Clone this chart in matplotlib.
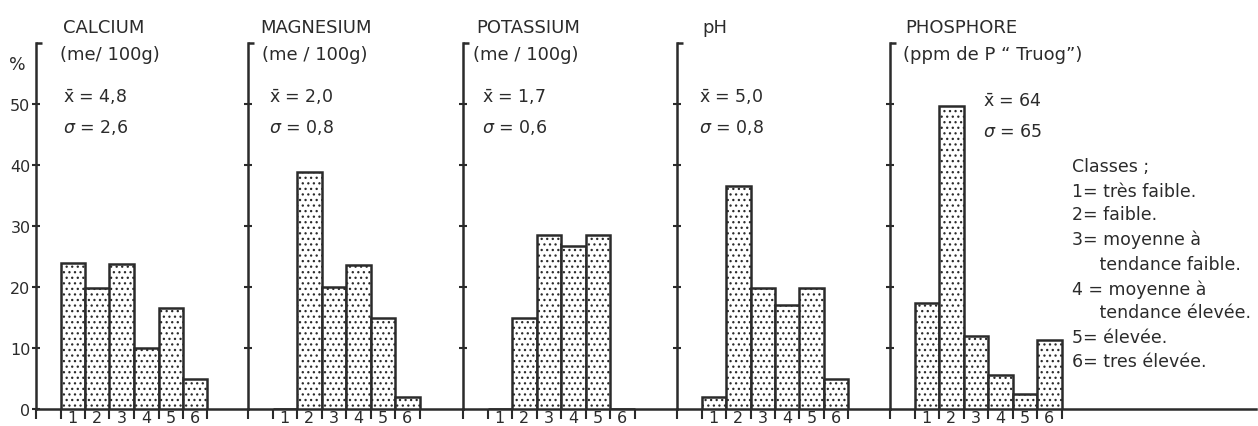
import matplotlib
matplotlib.use("Agg")
import matplotlib.pyplot as plt

plt.rcParams["font.family"] = ["DejaVu Sans"]
plt.rcParams["mathtext.fontset"] = "dejavusans"
plt.rcParams["hatch.linewidth"] = 0.9

# data: % of samples in each class (1..6)
classes = [1, 2, 3, 4, 5, 6]
calcium = [24, 19.8, 23.8, 10, 16.6, 5]
magnesium = [0, 38.8, 20, 23.6, 15, 2]
potassium = [0, 15, 28.5, 26.7, 28.5, 0]
ph = [2, 36.6, 19.8, 17, 19.8, 5]
phosphore = [17.3, 49.6, 12, 5.5, 2.4, 11.3]

titles = ["CALCIUM", "MAGNESIUM", "POTASSIUM", "pH", "PHOSPHORE"]
units = ["(me/ 100g)", "(me / 100g)", "(me / 100g)", "", "(ppm de P \u201c Truog\u201d)"]
means = ["4,8", "2,0", "1,7", "5,0", "64"]
sigmas = ["2,6", "0,8", "0,6", "0,8", "65"]
legend_lines = ["Classes ;", "1= très faible.", "2= faible.", "3= moyenne à",
                "     tendance faible.", "4 = moyenne à", "     tendance élevée.",
                "5= élevée.", "6= tres élevée."]

series = [calcium, magnesium, potassium, ph, phosphore]

W, H = 1258, 427
fig = plt.figure(figsize=(W / 100, H / 100), dpi=100)
ink = "#2b2b2b"

# panel y-axis positions in pixels
lefts = [36, 248, 463, 677, 890]
rights = [248, 463, 677, 890, 1256]
unit = 24.5  # px per class
base_y = 410
top_y = 44
px_per_pct = (base_y - top_y) / 60


def fx(px):
    return px / W


def fy(py):
    return 1 - py / H


for i, vals in enumerate(series):
    l, r = lefts[i], rights[i]
    ax = fig.add_axes([fx(l), fy(base_y), fx(r - l), (base_y - top_y) / H])
    ax.set_xlim(0, (r - l) / unit)
    ax.set_ylim(0, 60)
    ax.patch.set_alpha(0)
    for s in ["top", "right"]:
        ax.spines[s].set_visible(False)
    for s in ["left", "bottom"]:
        ax.spines[s].set_color(ink)
        ax.spines[s].set_linewidth(1.8)
    ax.bar([c + 0.5 for c in classes], vals, width=1.0, facecolor="white",
           edgecolor=ink, linewidth=1.8, hatch="...", zorder=3)
    # small bracket at the top of each axis
    ax.plot([0, 0.25], [60, 60], color=ink, lw=1.8, clip_on=False, solid_capstyle="butt")
    ax.set_xticks(range(0, 8))
    ax.set_xticklabels([])
    ax.tick_params(axis="x", direction="out", length=7, width=1.5, color=ink)
    # class numbers under the bars, kept inside the figure's bottom edge
    for c in classes:
        ax.text(c + 0.5, -(H - 0.5 - base_y) / px_per_pct, str(c), fontsize=11.5,
                color=ink, ha="center", va="bottom", clip_on=False)
    if i == 0:
        ax.set_yticks([0, 10, 20, 30, 40, 50])
        ax.set_yticklabels(["0", "10", "20", "30", "40", "50"], fontsize=11.5, color=ink)
        ax.text(-0.75, 56.5, "%", fontsize=12.5, color=ink, ha="center", va="center")
    else:
        ax.set_yticks([10, 20, 30, 40, 50])
        ax.set_yticklabels([])
    ax.tick_params(axis="y", direction="inout", length=6, width=1.5, color=ink, pad=1)

# titles and stats (pixel anchors)
title_x = [63, 260, 476, 702, 905]
unit_x = [60, 262, 473, 702, 903]
stat_x = [63, 269, 482, 699, 983]
stat_y = [(103, 133)] * 4 + [(107, 137)]
for i in range(5):
    fig.text(fx(title_x[i]), fy(33), titles[i], fontsize=13, color=ink, va="baseline")
    if units[i]:
        fig.text(fx(unit_x[i]), fy(60), units[i], fontsize=13, color=ink, va="baseline")
    fig.text(fx(stat_x[i]), fy(stat_y[i][0]), r"$\bar{\mathsf{x}}$ = " + means[i],
             fontsize=12.5, color=ink, va="baseline")
    fig.text(fx(stat_x[i]), fy(stat_y[i][1]), r"$\sigma$ = " + sigmas[i],
             fontsize=12.5, color=ink, va="baseline")

leg_y = [172, 197, 220, 245, 270, 295, 318, 343, 367]
for txt, yy in zip(legend_lines, leg_y):
    fig.text(fx(1072), fy(yy), txt, fontsize=12.5, color=ink, va="baseline")

fig.savefig("out.png", dpi=100, facecolor="white")
